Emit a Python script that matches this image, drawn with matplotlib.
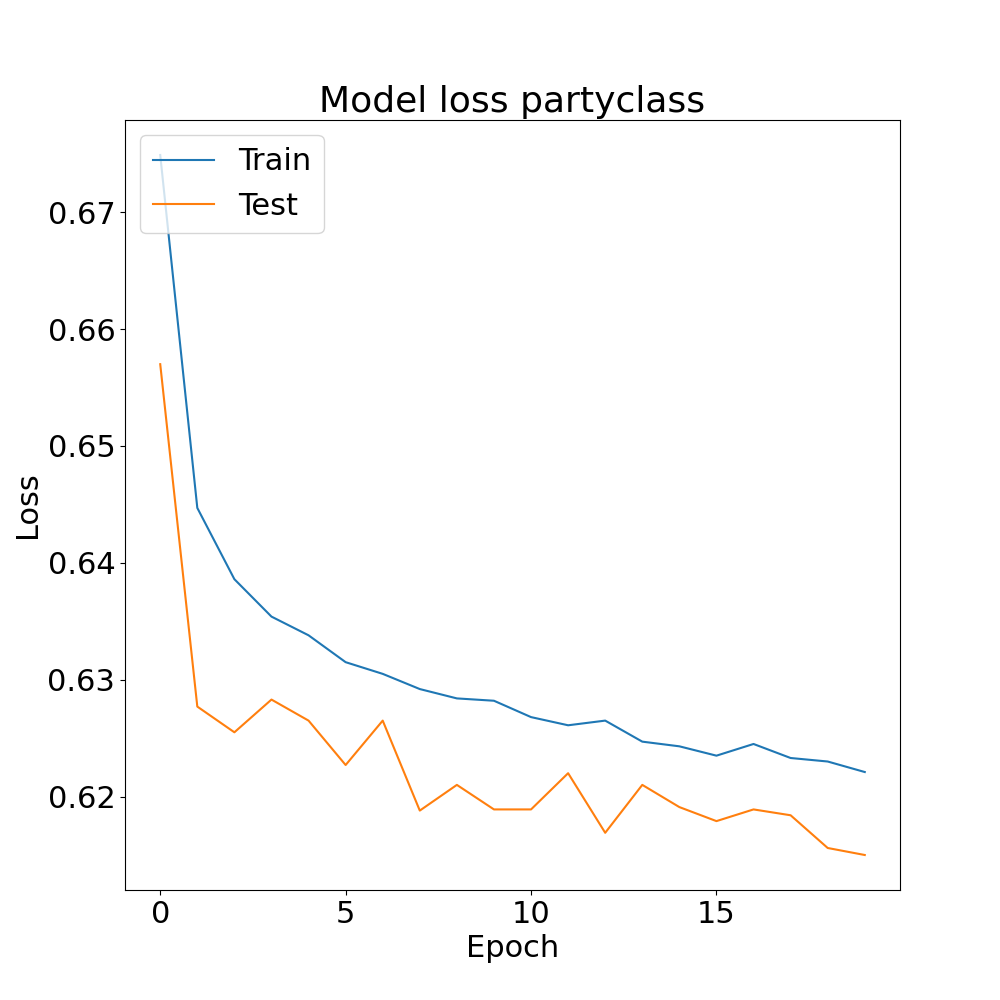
import matplotlib
matplotlib.use('Agg')
import matplotlib.pyplot as plt

# loss values per epoch
train_loss = [0.6749, 0.6447, 0.6386, 0.6354, 0.6338, 0.6315, 0.6305, 0.6292,
              0.6284, 0.6282, 0.6268, 0.6261, 0.6265, 0.6247, 0.6243, 0.6235,
              0.6245, 0.6233, 0.6230, 0.6221]
test_loss = [0.6570, 0.6277, 0.6255, 0.6283, 0.6265, 0.6227, 0.6265, 0.6188,
             0.6210, 0.6189, 0.6189, 0.6220, 0.6169, 0.6210, 0.6191, 0.6179,
             0.6189, 0.6184, 0.6156, 0.6150]
series_names = ['Train', 'Test']

plt.rcParams['font.size'] = 22
fig = plt.figure(figsize=(10, 10), dpi=100)
plt.plot(train_loss)
plt.plot(test_loss)
plt.title('Model loss partyclass', fontsize=26)
plt.ylabel('Loss')
plt.xlabel('Epoch')
plt.legend(series_names, loc='upper left')
plt.savefig('out.png')
